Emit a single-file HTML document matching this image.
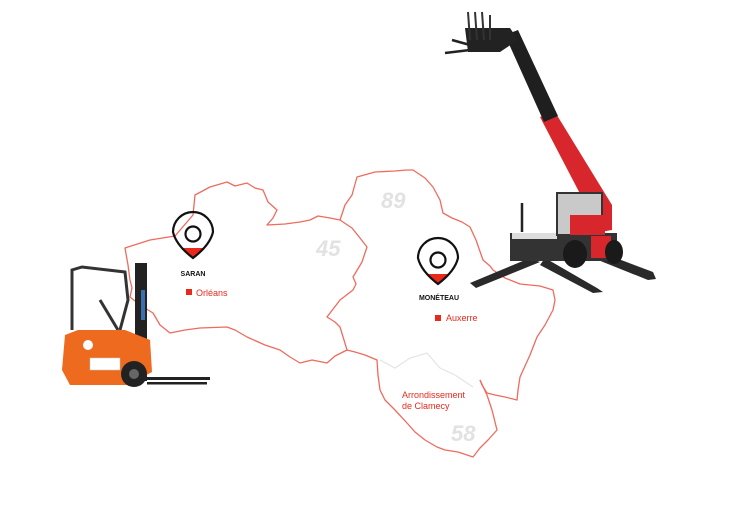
<!DOCTYPE html>
<html><head><meta charset="utf-8"><style>
html,body{margin:0;padding:0;background:#fff;width:752px;height:510px;overflow:hidden}
svg{display:block}
text{font-family:"Liberation Sans",sans-serif}
</style></head><body>
<svg width="752" height="510" viewBox="0 0 752 510" xmlns="http://www.w3.org/2000/svg">
<!-- map -->
<g fill="none" stroke="#ee6b5e" stroke-width="1.3" stroke-linejoin="round">
<path d="M125,248 L150,240 L175,236 L193,215 L195,195 L210,187 L227,182 L235,186 L247,183 L255,188 L263,190 L268,202 L277,210 L273,218 L267,225 L285,224 L300,222 L310,220 L318,216 L330,218 L340,220 L352,228 L360,238 L367,247 L362,262 L353,277 L356,284 L353,290 L340,300 L327,317 L335,322 L340,327 L344,340 L347,350 L335,356 L327,363 L312,360 L300,363 L290,357 L280,350 L265,345 L247,337 L235,330 L227,327 L200,328 L185,330 L170,333 L160,325 L153,313 L140,305 L130,297 L132,288 L130,280 L128,265 L125,248 Z"/>
<path d="M340,220 L345,205 L352,195 L357,177 L375,172 L395,171 L407,170 L413,170 L425,178 L433,187 L440,200 L443,213 L452,218 L462,222 L470,227 L476,240 L483,260 L490,266 L493,270 L505,278 L520,284 L540,286 L553,290 L555,300 L553,310 L545,325 L537,337 L530,355 L520,377 L518,390 L517,400 L505,397 L495,395 L487,393 L482,385 L480,380"/>
<path d="M480,380 L487,395 L492,410 L497,430 L488,440 L480,448 L473,457 L458,452 L445,450 L437,447 L425,440 L415,432 L407,423 L395,410 L385,400 L380,390 L378,375 L377,360 L365,355 L355,352 L347,350"/>
</g>
<path d="M380,360 L395,368 L410,358 L427,353 L440,368 L455,375 L473,387" fill="none" stroke="#e4e4e4" stroke-width="1.2"/>
<g font-weight="bold" font-style="italic" fill="#e2e2e2" font-size="22">
<text x="381" y="208">89</text><text x="316" y="256">45</text><text x="451" y="441">58</text>
</g>
<!-- pins -->
<g>
<clipPath id="c1"><path d="M173,232 A20,20 0 1 1 213,232 Q210,245 193,258 Q176,245 173,232 Z"/></clipPath>
<rect x="170" y="248" width="46" height="12" fill="#e8291c" clip-path="url(#c1)"/>
<path d="M173,232 A20,20 0 1 1 213,232 Q210,245 193,258 Q176,245 173,232 Z" fill="none" stroke="#111" stroke-width="2.2"/>
<circle cx="193" cy="234" r="7.5" fill="none" stroke="#111" stroke-width="2.2"/>
<text x="193" y="276" font-size="7" font-weight="bold" text-anchor="middle" fill="#111">SARAN</text>
<rect x="186" y="289" width="6" height="6" fill="#e8291c"/>
<text x="196" y="296" font-size="9" fill="#e8291c">Orléans</text>

<clipPath id="c2"><path d="M418,258 A20,20 0 1 1 458,258 Q455,271 438,284 Q421,271 418,258 Z"/></clipPath>
<rect x="415" y="274" width="46" height="12" fill="#e8291c" clip-path="url(#c2)"/>
<path d="M418,258 A20,20 0 1 1 458,258 Q455,271 438,284 Q421,271 418,258 Z" fill="none" stroke="#111" stroke-width="2.2"/>
<circle cx="438" cy="260" r="7.5" fill="none" stroke="#111" stroke-width="2.2"/>
<text x="439" y="300" font-size="7" font-weight="bold" text-anchor="middle" fill="#111">MONÉTEAU</text>
<rect x="435" y="315" width="6" height="6" fill="#e8291c"/>
<text x="446" y="321" font-size="9" fill="#e8291c">Auxerre</text>
<text x="402" y="398" font-size="9" fill="#e8291c">Arrondissement</text>
<text x="402" y="409" font-size="9" fill="#e8291c">de Clamecy</text>
</g>
<!-- forklift -->
<g>
<path d="M72,330 L72,270 L82,267 L125,272 L128,300 L120,330" fill="none" stroke="#333" stroke-width="3"/>
<path d="M100,300 L112,320 L118,330" stroke="#333" stroke-width="3" fill="none"/>
<rect x="135" y="263" width="12" height="118" fill="#222"/>
<rect x="141" y="290" width="4" height="30" fill="#3a6fb0"/>
<path d="M65,335 L78,330 L125,330 L150,340 L152,372 L128,385 L70,385 L62,370 Z" fill="#ed6a1f"/>
<rect x="90" y="358" width="30" height="12" fill="#fff" stroke="#ccc" stroke-width="0.5"/>
<circle cx="88" cy="345" r="5" fill="#fff"/>
<circle cx="134" cy="374" r="13" fill="#222"/><circle cx="134" cy="374" r="5" fill="#666"/>
<rect x="147" y="377" width="63" height="3" fill="#222"/>
<rect x="147" y="382" width="60" height="2.5" fill="#222"/>
</g>
<!-- telehandler -->
<g>
<path d="M470,283 L530,258 L540,262 L476,288 Z" fill="#2a2a2a"/>
<path d="M545,258 L597,288 L603,292 L593,293 L540,265 Z" fill="#2a2a2a"/>
<path d="M600,252 L653,272 L656,279 L648,280 L598,260 Z" fill="#2a2a2a"/>
<rect x="510" y="233" width="107" height="28" fill="#333"/>
<rect x="512" y="233" width="45" height="6" fill="#ddd"/>
<path d="M540,117 L555,112 L612,205 L612,230 L600,232 Z" fill="#d8262d"/>
<path d="M505,35 L518,30 L558,116 L544,122 Z" fill="#1f1f1f"/>
<path d="M465,28 L510,28 L518,40 L500,52 L468,52 Z" fill="#222"/>
<path d="M468,12 L470,40 M475,12 L477,40 M482,12 L484,40 M490,15 L490,40" stroke="#333" stroke-width="2" fill="none"/>
<path d="M445,53 L470,50 M452,40 L470,45" stroke="#222" stroke-width="2.5" fill="none"/>
<rect x="557" y="193" width="45" height="42" fill="#c9c9c9" stroke="#333" stroke-width="2"/>
<rect x="570" y="215" width="35" height="20" fill="#d8262d"/>
<rect x="591" y="236" width="20" height="22" fill="#d8262d"/>
<path d="M522,203 L522,232" stroke="#222" stroke-width="2.5"/>
<ellipse cx="575" cy="254" rx="12" ry="14" fill="#1a1a1a"/>
<ellipse cx="614" cy="252" rx="9" ry="12" fill="#1a1a1a"/>
</g>
</svg>
</body></html>
